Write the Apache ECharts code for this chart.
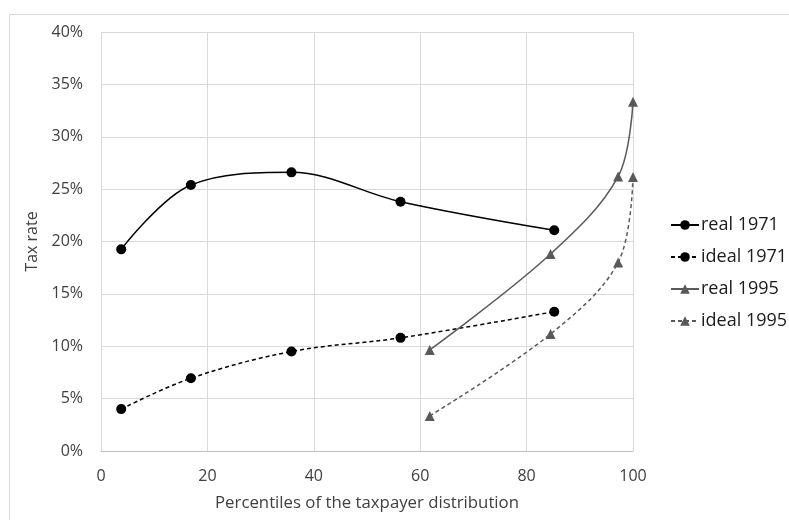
<!DOCTYPE html>
<html>
<head>
<meta charset="utf-8">
<script src="https://cdn.jsdelivr.net/npm/echarts@6/dist/echarts.min.js"></script>
<style>html,body{margin:0;padding:0;background:#fff;}#c{width:789px;height:520px;}</style>
</head>
<body>
<div id="c"></div>
<script>
const xTicks = [0, 20, 40, 60, 80, 100];
const yTicks = [0, 5, 10, 15, 20, 25, 30, 35, 40];
const real1971X = [3.8, 16.9, 35.8, 56.3, 85.2];
const real1971Y = [19.25, 25.4, 26.6, 23.8, 21.07];
const ideal1971X = [3.8, 16.9, 35.8, 56.3, 85.2];
const ideal1971Y = [4.0, 6.95, 9.5, 10.8, 13.3];
const real1995X = [61.8, 84.5, 97.2, 100];
const real1995Y = [9.65, 18.8, 26.2, 33.35];
const ideal1995X = [61.8, 84.5, 97.2, 100];
const ideal1995Y = [3.35, 11.17, 18.0, 26.15];

const zip = (xs, ys) => xs.map((x, i) => [x, ys[i]]);
const FONT = '"Open Sans"';
const chart = echarts.init(document.getElementById('c'), null, {renderer: 'canvas'});
const mk = (name, xs, ys, color, dashed, symbol, size) => ({
  name, type: 'line', data: zip(xs, ys), smooth: 0.35,
  symbol, symbolSize: size,
  lineStyle: {color, width: 1.5, type: dashed ? [4, 3] : 'solid'},
  itemStyle: {color, borderWidth: 0},
  emphasis: {disabled: true}
});
chart.setOption({
  animation: false,
  backgroundColor: '#fff',
  textStyle: {fontFamily: FONT},
  graphic: [{type: 'rect', shape: {x: 9.5, y: 14.5, width: 800, height: 520}, style: {fill: 'none', stroke: '#d9d9d9', lineWidth: 1}, z: -1}],
  grid: {left: 101, right: 156, top: 32, bottom: 69, containLabel: false},
  xAxis: {
    type: 'value', min: xTicks[0], max: xTicks[xTicks.length - 1], interval: 20,
    name: 'Percentiles of the taxpayer distribution', nameLocation: 'middle', nameGap: 44,
    nameTextStyle: {fontSize: 16.8, color: '#404040', fontFamily: FONT},
    axisLine: {show: true, lineStyle: {color: '#bfbfbf', width: 1}},
    axisTick: {show: false},
    axisLabel: {fontSize: 16, color: '#404040', margin: 17, fontFamily: FONT},
    splitLine: {show: true, lineStyle: {color: '#d9d9d9', width: 1}}
  },
  yAxis: {
    type: 'value', min: yTicks[0], max: yTicks[yTicks.length - 1], interval: 5,
    name: 'Tax rate', nameLocation: 'middle', nameGap: 56, nameRotate: 90,
    nameTextStyle: {fontSize: 16, color: '#404040', fontFamily: FONT},
    axisLine: {show: false}, axisTick: {show: false},
    axisLabel: {formatter: '{value}%', fontSize: 16, color: '#404040', margin: 18, fontFamily: FONT},
    splitLine: {show: true, lineStyle: {color: '#d9d9d9', width: 1}}
  },
  legend: {
    orient: 'vertical', left: 665, top: 211,
    itemWidth: 28, itemHeight: 12, itemGap: 14,
    textStyle: {fontSize: 18, lineHeight: 18, color: '#1a1a1a', fontFamily: FONT, padding: [0, 0, 0, -3]},
    data: ['real 1971', 'ideal 1971', 'real 1995', 'ideal 1995']
  },
  series: [
    mk('real 1971', real1971X, real1971Y, '#000000', false, 'circle', 10),
    mk('ideal 1971', ideal1971X, ideal1971Y, '#000000', true, 'circle', 10),
    mk('real 1995', real1995X, real1995Y, '#595959', false, 'triangle', 10),
    mk('ideal 1995', ideal1995X, ideal1995Y, '#595959', true, 'triangle', 10)
  ]
});
</script>
</body>
</html>
